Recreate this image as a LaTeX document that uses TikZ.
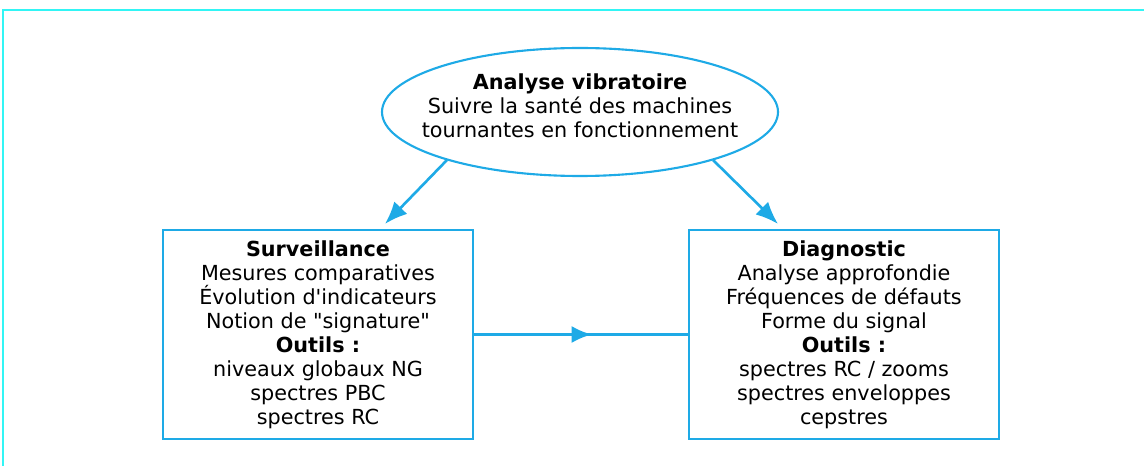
\documentclass[tikz,border=0pt]{standalone}
\usepackage{fontspec}
\setmainfont{DejaVu Sans}[Ligatures=TeXOff]
\usepackage{tikz}
\usetikzlibrary{arrows.meta,decorations.markings}
\definecolor{vibblue}{RGB}{30,170,230}
\definecolor{framecyan}{RGB}{50,245,245}

\begin{document}
\begin{tikzpicture}[
		txt/.style={align=center, font=\fontsize{11.8}{13.66}\selectfont, text=black},
		boite/.style={txt, draw=vibblue, line width=1.2pt, minimum width=6.2cm, minimum height=4.18cm, inner sep=0pt},
		fleche/.style={draw=vibblue, line width=1.5pt, -{Latex[length=4.5mm, width=3.6mm]}},
		milieu/.style={draw=vibblue, line width=1.5pt, decoration={markings, mark=at position 0.55 with {\arrow{Latex[length=4mm, width=3.4mm]}}}, postaction={decorate}}
	]
			%%%%% START %%%%%
			
			\useasboundingbox (0, 0) rectangle (22.88, 9.32);
			
			% cadre
			\draw[line width=1.3pt, color=framecyan] (0.06, 0) -- (0.06, 9.12) -- (22.88, 9.12);
			
			% ellipse du haut
			\draw[vibblue, line width=1.2pt] (11.6, 7.08) ellipse (3.96 and 1.28);
			\node[txt] (vib) at (11.6, 7.2)
				{\textbf{Analyse vibratoire}\\Suivre la santé des machines\\tournantes en fonctionnement};
			\coordinate (vibG) at (8.94, 6.12);
			\coordinate (vibD) at (14.26, 6.12);
			
			\node[boite] (surv) at (6.36, 2.63)
				{\textbf{Surveillance}\\Mesures comparatives\\Évolution d'indicateurs\\Notion de "signature"\\\textbf{Outils :}\\niveaux globaux NG\\spectres PBC\\spectres RC};
			
			\node[boite] (diag) at (16.88, 2.63)
				{\textbf{Diagnostic}\\Analyse approfondie\\Fréquences de défauts\\Forme du signal\\\textbf{Outils :}\\spectres RC / zooms\\spectres enveloppes\\cepstres};
			
			\draw[fleche] (vibG) -- ([xshift=1.34cm, yshift=0.1cm]surv.north);
			\draw[fleche] (vibD) -- ([xshift=-1.32cm, yshift=0.1cm]diag.north);
			\draw[milieu] (surv.east) -- (diag.west);
			
			%%%%% END %%%%%
\end{tikzpicture}
\end{document}
